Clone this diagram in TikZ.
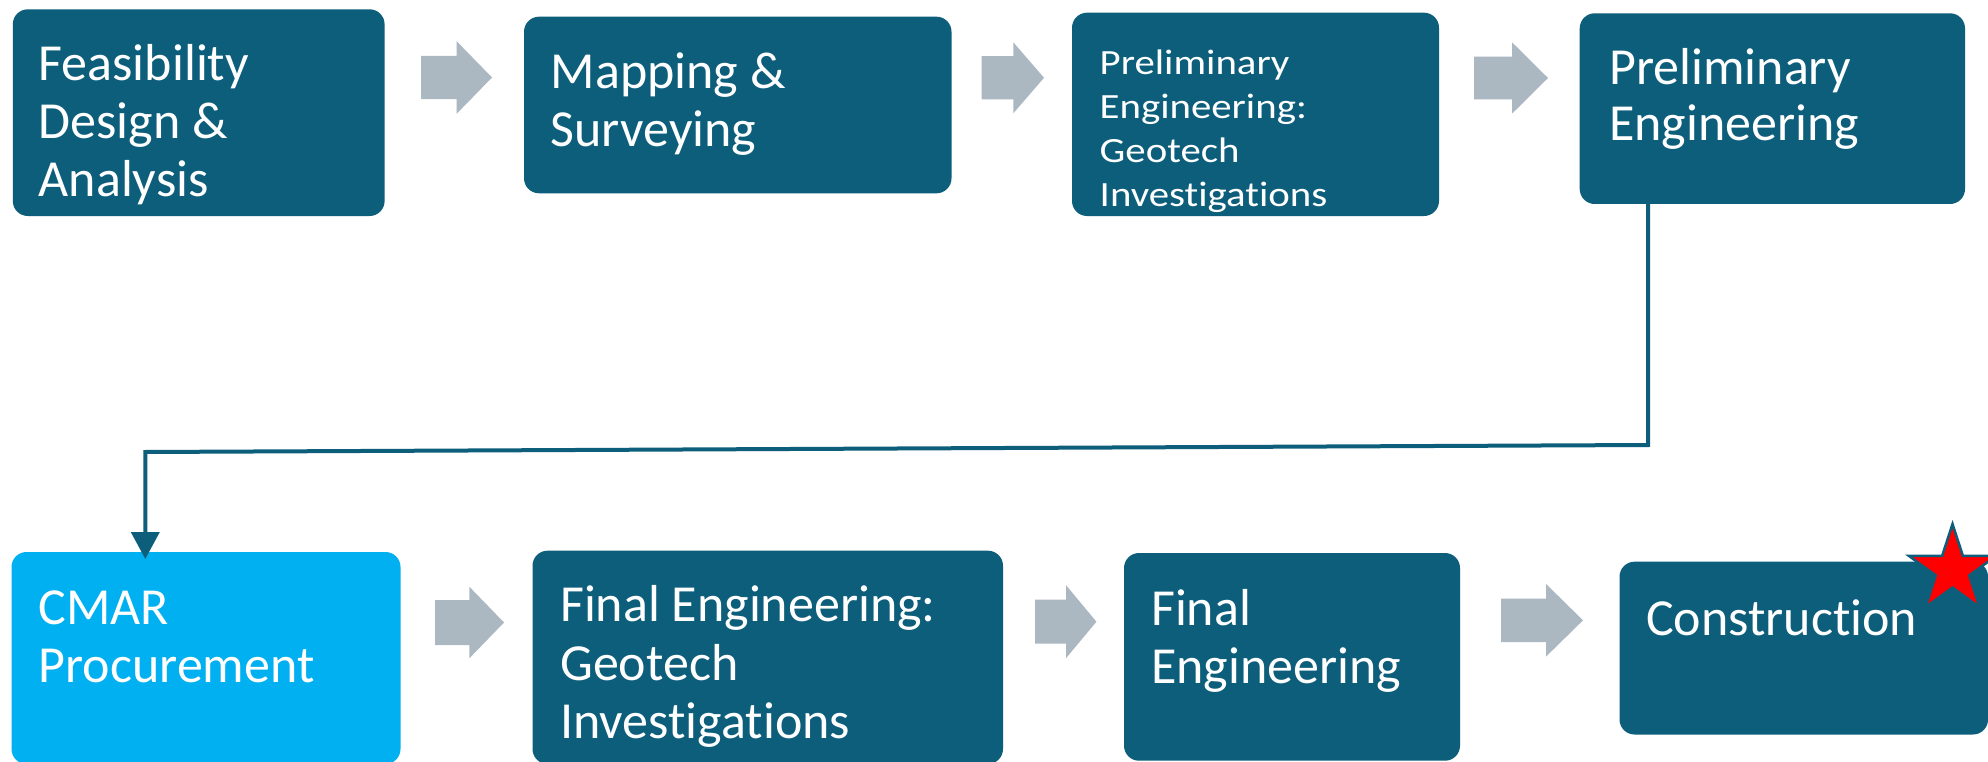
\documentclass[tikz,border=0pt]{standalone}
\usepackage{fontspec}
\setmainfont[RawFeature={-liga;-clig}]{Carlito}
\newfontfamily\widefont[RawFeature={-liga;-clig},FakeStretch=1.15]{Carlito}
\usetikzlibrary{arrows.meta}
\definecolor{boxteal}{RGB}{13,94,123}
\definecolor{boxcyan}{RGB}{0,176,240}
\definecolor{arrowgray}{RGB}{172,184,193}
\definecolor{starred}{RGB}{255,0,0}
\tikzset{
  stepbox/.style={rectangle, rounded corners=15pt, fill=boxteal, inner sep=0pt, outer sep=0pt},
  cyanbox/.style={stepbox, fill=boxcyan},
  bigtxt/.style={text=white, inner sep=0pt, anchor=base west, font=\fontsize{52}{58}\selectfont},
  smalltxt/.style={text=white, inner sep=0pt, anchor=base west, font=\widefont\fontsize{35.5}{44.2}\selectfont},
  blockarrow/.style={fill=arrowgray, draw=none},
  link/.style={draw=boxteal, line width=4pt, line join=miter, -{Triangle[width=28pt,length=27pt]}},
  starshape/.style={fill=starred, draw=boxteal, line width=2.5pt, line join=miter}
}
\newcommand\blockarr[6]{% x1, xm, x2, cy, shaft half, head half
  \path[blockarrow] (#1,#4-#5) -- (#2,#4-#5) -- (#2,#4-#6) -- (#3,#4) -- (#2,#4+#6) -- (#2,#4+#5) -- (#1,#4+#5) -- cycle;}
\begin{document}
\begin{tikzpicture}[x=1pt,y=-1pt]
\useasboundingbox (0,0) rectangle (1988,762);
\clip (0,0) rectangle (1988,762);
\fill[white] (0,0) rectangle (1988,762);

% top row boxes
\node[stepbox, minimum width=371.8pt, minimum height=206.7pt] (b1) at (198.7,112.65) {};
\node[stepbox, minimum width=427.5pt, minimum height=176.6pt] (b2) at (737.75,105) {};
\node[stepbox, minimum width=367pt, minimum height=203.3pt] (b3) at (1255.5,114.35) {};
\node[stepbox, minimum width=385.3pt, minimum height=190.7pt] (b4) at (1772.35,108.65) {};
% bottom row boxes
\node[cyanbox, minimum width=389pt, minimum height=212pt] (b5) at (206,658) {};
\node[stepbox, minimum width=470.5pt, minimum height=213.3pt] (b6) at (767.75,657.35) {};
\node[stepbox, minimum width=336pt, minimum height=207.7pt] (b7) at (1292,656.85) {};
\node[stepbox, minimum width=368.5pt, minimum height=172.8pt] (b8) at (1803.75,648.1) {};

% texts
\node[bigtxt] (t1) at (38.5,81) {\vtop{\hbox{Feasibility}\hbox{Design \&}\hbox{Analysis}}};
\node[bigtxt] (t2) at (550.5,89) {\vtop{\hbox{Mapping \&}\hbox{Surveying}}};
\node[smalltxt] (t3) at (1099.5,74.3) {\vtop{\hbox{Preliminary}\hbox{Engineering:}\hbox{Geotech}\hbox{Investigations}}};
\node[bigtxt, font=\fontsize{52}{56.4}\selectfont] (t4) at (1609,84.3) {\vtop{\hbox{Preliminary}\hbox{Engineering}}};
\node[bigtxt] (t5) at (38.5,624) {\vtop{\hbox{CMAR}\hbox{Procurement}}};
\node[bigtxt, font=\fontsize{52}{58.3}\selectfont] (t6) at (560,621.7) {\vtop{\hbox{Final Engineering:}\hbox{Geotech}\hbox{Investigations}}};
\node[bigtxt] (t7) at (1151,625) {\vtop{\hbox{Final}\hbox{Engineering}}};
\node[bigtxt] (t8) at (1646,635) {Construction};

% block arrows
\blockarr{421}{456.6}{492}{77.5}{21.7}{36.3}
\blockarr{981.7}{1013.3}{1044}{77.8}{21.6}{35.5}
\blockarr{1474}{1512}{1548}{78}{21.3}{35.7}
\blockarr{435}{469.4}{504}{622.5}{22.5}{35.7}
\blockarr{1035}{1066}{1096.4}{621.7}{22}{36.5}
\blockarr{1501}{1546}{1583}{620.3}{21.8}{36.3}

% connector from Preliminary Engineering to CMAR Procurement
\coordinate (c1) at (1648,445);
\coordinate (c2) at (145.3,452);
\draw[link] ([xshift=68.3pt]b4.south west) -- (c1) -- (c2) -- ([xshift=133.8pt,yshift=-7pt]b5.north west);

% star
\draw[starshape, shift={(1952.5,570)}] (-90:46) -- (-54:17.6) -- (-18:46) -- (18:17.6) -- (54:46) -- (90:17.6) -- (126:46) -- (162:17.6) -- (198:46) -- (234:17.6) -- cycle;
\end{tikzpicture}
\end{document}
